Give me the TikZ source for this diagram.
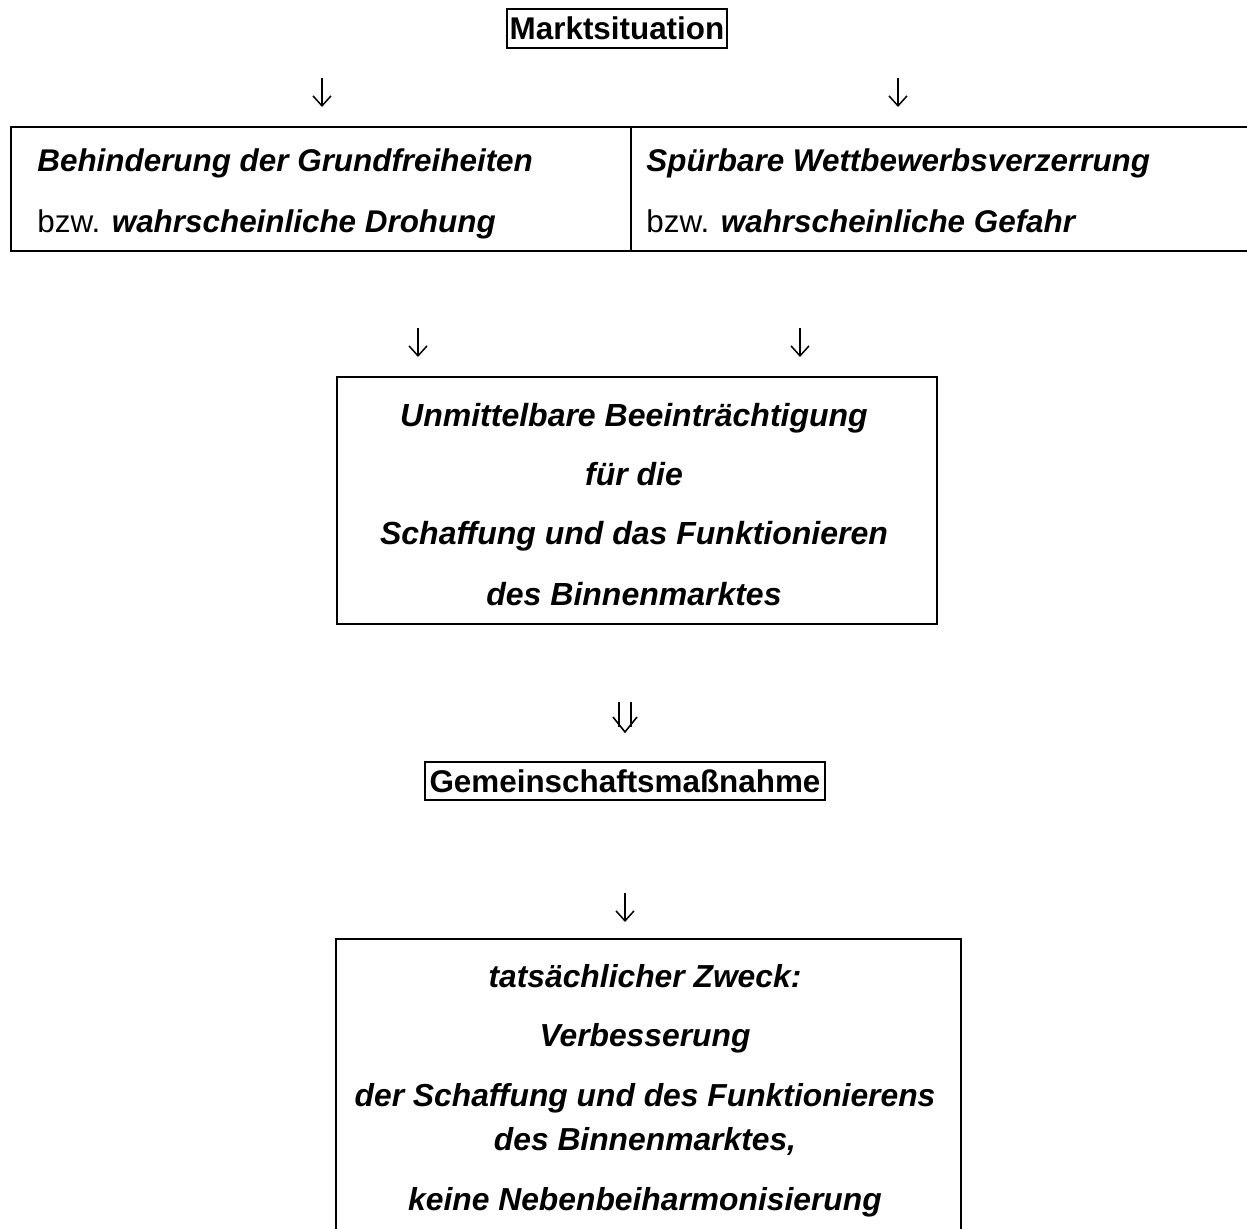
\documentclass[tikz,border=0pt]{standalone}
\usepackage{fontspec}
\setmainfont{Liberation Sans}
\usetikzlibrary{arrows.meta}
\newcommand{\bi}{\bfseries\itshape}
\tikzset{
  txt/.style={inner sep=0pt, anchor=base, font=\fontsize{15.7pt}{18pt}\selectfont},
  txtb/.style={txt, font=\fontsize{16pt}{18pt}\selectfont},
  txtc/.style={txt, font=\fontsize{15.9pt}{18pt}\selectfont},
  celltxt/.style={txt, anchor=base west},
  hbox/.style={draw, line width=0.8pt, inner sep=0pt, font=\fontsize{15.7pt}{18pt}\selectfont\bfseries},
  framebox/.style={draw, line width=0.9pt, inner sep=0pt},
  tline/.style={line width=0.9pt},
  arr/.style={line width=0.75pt, -{Straight Barb[length=5pt,width=9pt,line width=0.75pt]}},
  dbl/.style={line width=0.8pt},
}
\begin{document}
\begin{tikzpicture}[x=0.5pt,y=-0.5pt]
\useasboundingbox (0,0) rectangle (1247,1229);
% top
\node[hbox, minimum width=110pt, minimum height=19.5pt] (markt) at (617,28.5) {Marktsituation};
\coordinate (a1s) at (322,78); \coordinate (a1e) at (322,107);
\coordinate (a2s) at (898,78); \coordinate (a2e) at (898,107);
\draw[arr] (a1s) -- (a1e);
\draw[arr] (a2s) -- (a2e);
% table
\draw[tline] (1247,127) -| (11,251) -- (1247,251);
\draw[tline] (631,127) -- (631,251);
\node[celltxt] (la) at (37,172) {\bi Behinderung der Grundfreiheiten};
\node[celltxt] (lb) at (37,233) {bzw. {\bi wahrscheinliche Drohung}};
\node[celltxt] (ra) at (646,172) {\bi Spürbare Wettbewerbsverzerrung};
\node[celltxt] (rb) at (646,233) {bzw. {\bi wahrscheinliche Gefahr}};
% second arrows
\coordinate (b1s) at (418,328); \coordinate (b1e) at (418,357);
\coordinate (b2s) at (800,328); \coordinate (b2e) at (800,357);
\draw[arr] (b1s) -- (b1e);
\draw[arr] (b2s) -- (b2e);
% box 2
\node[framebox, minimum width=300pt, minimum height=123.5pt] (imp) at (637,500.5) {};
\node[txtb] (i1) at (634,427) {\bi Unmittelbare Beeinträchtigung};
\node[txtb] (i2) at (634,486) {\bi für die};
\node[txtb] (i3) at (634,545) {\bi Schaffung und das Funktionieren};
\node[txtb] (i4) at (634,605) {\bi des Binnenmarktes};
% double arrow
\coordinate (c1l) at (619,702); \coordinate (c1r) at (631,702);
\coordinate (c1tip) at (625,732);
\draw[dbl] (c1l) -- (619,727) (c1r) -- (631,727);
\draw[dbl, line join=miter] (613,717) -- (c1tip) -- (637,717);
% gemeinschaftsmassnahme
\node[hbox, minimum width=200pt, minimum height=19pt] (gem) at (625,781) {Gemeinschaftsmaßnahme};
% arrow
\coordinate (d1s) at (625,893); \coordinate (d1e) at (625,922);
\draw[arr] (d1s) -- (d1e);
% bottom box
\draw[tline] (336,1229) |- (961,939) -- (961,1229);
\node[txtc] (z1) at (645,987) {\bi tatsächlicher Zweck:};
\node[txtc] (z2) at (645,1046) {\bi Verbesserung};
\node[txtc] (z3) at (645,1106) {\bi der Schaffung und des Funktionierens};
\node[txtc] (z4) at (645,1150) {\bi des Binnenmarktes,};
\node[txtc] (z5) at (645,1210) {\bi keine Nebenbeiharmonisierung};
\end{tikzpicture}
\end{document}
